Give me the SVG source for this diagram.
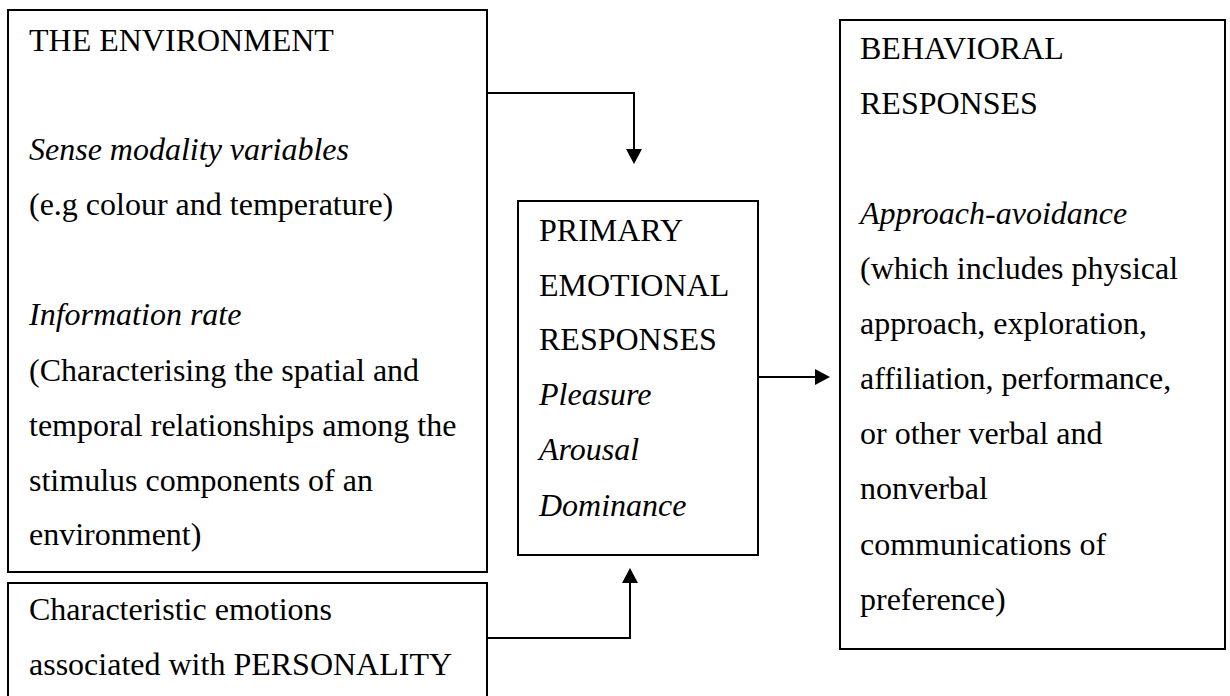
<svg xmlns="http://www.w3.org/2000/svg" width="1230" height="696" viewBox="0 0 1230 696">
  <style>
    .box { fill: #fff; stroke: #000; stroke-width: 2; }
    .txt { font-family: "Liberation Serif", "Times New Roman", serif; font-size: 32px; fill: #000; }
    .it { font-style: italic; }
    .conn { fill: none; stroke: #000; stroke-width: 2; }
  </style>
  <defs>
    <marker id="arrow" viewBox="0 0 15 16" markerWidth="15" markerHeight="16" refX="0" refY="8" orient="auto" markerUnits="userSpaceOnUse">
      <path d="M0,0 L15,8 L0,16 z" fill="#000"/>
    </marker>
  </defs>

  <rect width="1230" height="696" fill="#fff"/>

  <!-- Environment box -->
  <g id="environment">
    <rect class="box" x="8" y="10" width="479" height="562"/>
    <text class="txt" x="29" y="51">THE ENVIRONMENT</text>
    <text class="txt it" x="29" y="160">Sense modality variables</text>
    <text class="txt" x="29" y="215">(e.g colour and temperature)</text>
    <text class="txt it" x="29" y="325">Information rate</text>
    <text class="txt" x="29" y="381">(Characterising the spatial and</text>
    <text class="txt" x="29" y="436">temporal relationships among the</text>
    <text class="txt" x="29" y="491">stimulus components of an</text>
    <text class="txt" x="29" y="545">environment)</text>
  </g>

  <!-- Personality box -->
  <g id="personality">
    <rect class="box" x="8" y="583" width="479" height="130"/>
    <text class="txt" x="29" y="620">Characteristic emotions</text>
    <text class="txt" x="29" y="675">associated with PERSONALITY</text>
  </g>

  <!-- Primary emotional responses box -->
  <g id="emotional">
    <rect class="box" x="518" y="201" width="240" height="354"/>
    <text class="txt" x="539" y="241">PRIMARY</text>
    <text class="txt" x="539" y="296">EMOTIONAL</text>
    <text class="txt" x="539" y="350">RESPONSES</text>
    <text class="txt it" x="539" y="405">Pleasure</text>
    <text class="txt it" x="539" y="460">Arousal</text>
    <text class="txt it" x="539" y="516">Dominance</text>
  </g>

  <!-- Behavioral responses box -->
  <g id="behavioral">
    <rect class="box" x="840" y="20" width="385" height="629"/>
    <text class="txt" x="860" y="59">BEHAVIORAL</text>
    <text class="txt" x="860" y="114">RESPONSES</text>
    <text class="txt it" x="860" y="224">Approach-avoidance</text>
    <text class="txt" x="860" y="279">(which includes physical</text>
    <text class="txt" x="860" y="334">approach, exploration,</text>
    <text class="txt" x="860" y="389">affiliation, performance,</text>
    <text class="txt" x="860" y="444">or other verbal and</text>
    <text class="txt" x="860" y="499">nonverbal</text>
    <text class="txt" x="860" y="555">communications of</text>
    <text class="txt" x="860" y="610">preference)</text>
  </g>

  <!-- Connectors -->
  <g id="connectors">
    <path class="conn" d="M487,93 H634 V149" marker-end="url(#arrow)"/>
    <path class="conn" d="M487,638 H630 V583" marker-end="url(#arrow)"/>
    <path class="conn" d="M758,377 H815" marker-end="url(#arrow)"/>
  </g>
</svg>
